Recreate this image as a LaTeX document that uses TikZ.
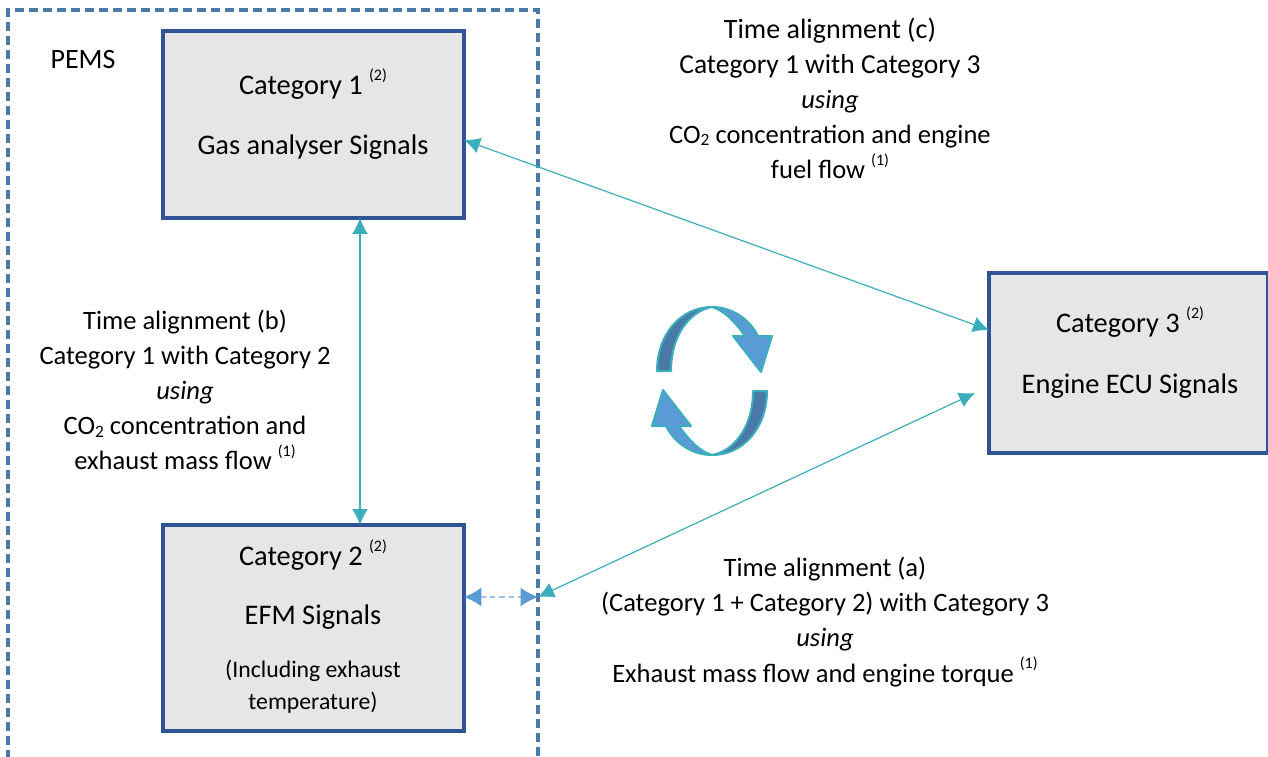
\documentclass[tikz,border=0pt]{standalone}
\usepackage{fontspec}
\setmainfont{Carlito}
\usetikzlibrary{arrows.meta}
\definecolor{boxline}{HTML}{2F5597}
\definecolor{boxfill}{HTML}{E6E6E6}
\definecolor{pemsline}{HTML}{4A7BA6}
\definecolor{teal}{HTML}{3BAEBB}
\definecolor{lightblue}{HTML}{5B9BD5}
\definecolor{darkblue}{HTML}{4A7BA8}
\newcommand{\nt}[1]{\raisebox{0.5em}{\fontsize{12}{12}\selectfont(#1)}}
\newcommand{\sub}[1]{\raisebox{-0.1em}{\fontsize{13}{13}\selectfont#1}}
\tikzset{
  box/.style={draw=boxline,fill=boxfill,line width=2.3pt,inner sep=0pt,outer sep=0pt},
  title/.style={font=\fontsize{21.3}{25}\selectfont,align=center,inner sep=0pt},
  note/.style={font=\fontsize{19.9}{26.3}\selectfont,align=center,inner sep=0pt},
  small/.style={font=\fontsize{17.8}{24}\selectfont,align=center,inner sep=0pt},
  link/.style={teal,line width=0.9pt,{Latex[length=12pt,width=12pt]}-{Latex[length=12pt,width=12pt]}},
  dottedlink/.style={lightblue!60,line width=0.9pt,dash pattern=on 4pt off 3pt,{Latex[length=13pt,width=14pt,lightblue]}-{Latex[length=13pt,width=14pt,lightblue]}}
}
\begin{document}
\begin{tikzpicture}[x=0.75pt,y=-0.75pt]
\useasboundingbox (0,0) rectangle (1268,757);
\clip (0,0) rectangle (1268,757);

\node (pems) at (273,412) [draw=pemsline,line width=2.3pt,dash pattern=on 7pt off 3.5pt,minimum width=397.5pt,minimum height=603pt,inner sep=0pt,outer sep=0pt] {};
\node (pemst) at (83,60) [small,font=\fontsize{21}{25}\selectfont] {PEMS};

\node (c1) at (313.5,124.5) [box,minimum width=225.75pt,minimum height=140.25pt] {};
\node (c2) at (313.5,628) [box,minimum width=225.75pt,minimum height=154.5pt] {};
\node (c3) at (1128.5,363) [box,minimum width=209.25pt,minimum height=135pt] {};

\node (c1a) at (313,84) [title] {Category 1 \nt{2}};
\node (c1b) at (313,147) [title] {Gas analyser Signals};
\node (c2a) at (313,555) [title] {Category 2 \nt{2}};
\node (c2b) at (313,617) [title] {EFM Signals};
\node (c2c) at (313,687) [small] {(Including exhaust\\temperature)};
\node (c3a) at (1130,322) [title] {Category 3 \nt{2}};
\node (c3b) at (1130,386) [title] {Engine ECU Signals};

\node (tc) at (830,98) [note] {{\fontsize{21}{26.3}\selectfont Time alignment (c)}\\{\fontsize{20.6}{26.3}\selectfont Category 1 with Category 3}\\\textit{using}\\CO\sub{2} concentration and engine\\fuel flow \nt{1}};
\node (tb) at (185,390) [note] {Time alignment (b)\\Category 1 with Category 2\\\textit{using}\\CO\sub{2} concentration and\\exhaust mass flow \nt{1}};
\node (ta) at (825,622) [note] {Time alignment (a)\\(Category 1 + Category 2) with Category 3\\\textit{using}\\Exhaust mass flow and engine torque \nt{1}};

\coordinate (p1) at (538,597);
\coordinate (p3) at (975,393);

\draw[link] (c1.south -| 360,0) -- (c2.north -| 360,0);
\draw[link] ([yshift=-11.6pt]c1.east) -- ([yshift=24.75pt]c3.west);
\draw[link] (p3) -- (p1);
\draw[dottedlink] (c2.east |- p1) -- (p1);

% turning arrows
\foreach \a in {0,180} {
\begin{scope}[rotate around={\a:(712,381)},draw=teal,line width=1.5pt,line join=round]
\draw[fill=darkblue] (657,371) .. controls (657,335) and (680,307) .. (712,307) .. controls (690,311) and (671,335) .. (671,371) -- cycle;
\draw[fill=lightblue] (712,307) .. controls (733,307) and (750,320) .. (758,336) -- (772,336) -- (761,372) -- (733,336) -- (745,336) .. controls (735,322) and (725,311) .. (712,307) -- cycle;
\end{scope}
}
\end{tikzpicture}
\end{document}
